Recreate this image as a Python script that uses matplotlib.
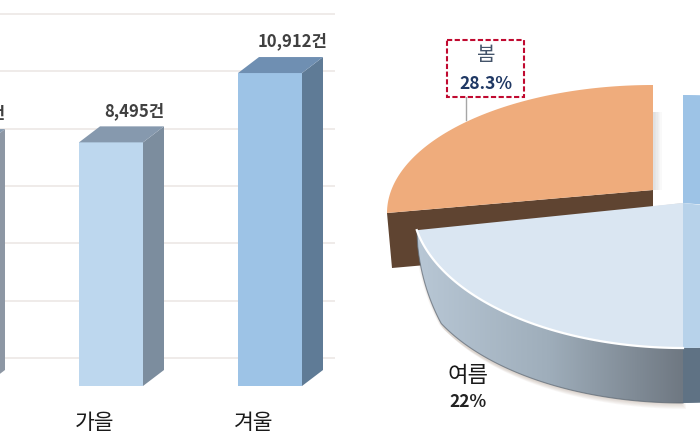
import matplotlib
matplotlib.use('Agg')
import matplotlib.pyplot as plt
from matplotlib.patches import Polygon, Rectangle
import numpy as np

plt.rcParams['font.family'] = ['Noto Sans CJK KR', 'DejaVu Sans']

# bar chart data (only the edge of the 여름 bar is in the picture, its value is a guess)
seasons = ['여름', '가을', '겨울']
counts = [8400, 8495, 10912]
count_labels = ['8,400건', '8,495건', '10,912건']
grid_values = [976, 2976, 4976, 6976, 8976, 10976, 12976]

front_colors = ['#A9B4C0', '#BDD7EE', '#9DC3E6']
side_colors = ['#8D97A4', '#7C8D9E', '#5F7B96']
top_colors = ['#8699AE', '#8699AE', '#6F8FB2']

# pie data, clockwise from the bottom
pie_names = ['여름', '봄', '겨울', '가을']
pie_shares = [22.0, 28.3, 27.9, 21.8]

W, H = 700, 440
fig = plt.figure(figsize=(7, 4.4), dpi=100, facecolor='white')

# left part: 3d looking bars
ax = fig.add_axes([0, 0, 335 / W, 1])
px_per_cat = 159
px_per_val = 0.02868
ax.set_xlim(1 - 111 / px_per_cat, 1 + 224 / px_per_cat)
ax.set_ylim(-54 / px_per_val, 386 / px_per_val)
for s in ax.spines.values():
    s.set_visible(False)
ax.set_yticks(grid_values)
ax.set_xticks([])
ax.tick_params(length=0, labelleft=False)
ax.grid(axis='y', color='#ECE8E5', lw=1.2)
ax.set_axisbelow(True)

idx = np.arange(len(seasons))
bar_w = 64 / px_per_cat
dx = 21 / px_per_cat
dy = 16 / px_per_val
ax.bar(idx, counts, width=bar_w, color=front_colors, zorder=3)
for i, v in zip(idx, counts):
    x0, x1 = i - bar_w / 2, i + bar_w / 2
    ax.add_patch(Polygon([(x1, 0), (x1 + dx, dy), (x1 + dx, v + dy), (x1, v)],
                         color=side_colors[i], lw=0, zorder=3))
    ax.add_patch(Polygon([(x0, v), (x1, v), (x1 + dx, v + dy), (x0 + dx, v + dy)],
                         color=top_colors[i], lw=0, zorder=3))
    ax.text(i + 23 / px_per_cat, v + dy + 230, count_labels[i], ha='center', va='bottom',
            fontsize=12, color='#404040', fontweight='bold', zorder=4, clip_on=True)
    if i > 0:
        ax.text(i - 16 / px_per_cat, -37 / px_per_val, seasons[i], ha='center', va='center',
                fontsize=15.5, color='#1A1A1A', clip_on=True)

# right part: exploded pie in perspective
pax = fig.add_axes([350 / W, 0, 350 / W, 1])
pax.set_xlim(350, 700)
pax.set_ylim(440, 0)
pax.axis('off')


def arc(cx, cy, a, b, t0, t1, n=80):
    # t is clockwise from straight down
    t = np.radians(np.linspace(t0, t1, n))
    return np.column_stack([cx - a * np.sin(t), cy + b * np.cos(t)])


edges = np.cumsum([0] + [s * 3.6 for s in pie_shares])
a, b = 271, 145
depth = 55
cx, cy = 683, 203
sx, sy = 653, 190  # 봄 is pulled out

# 여름 rim, thin towards its left end
summer_t = np.linspace(edges[0], edges[1], 80)
summer = arc(cx, cy, a, b, edges[0], edges[1])
rim = depth * np.clip((edges[1] - summer_t) / 16, 0, 1) ** 0.5
lower = summer + np.column_stack([np.zeros(80), rim])

# soft shadows
for k in range(6):
    pax.add_patch(Polygon(np.vstack([lower + [k - 2, k + 1], [[cx, cy]]]), color='#8A6F5A', alpha=0.05, lw=0, zorder=1))
    pax.add_patch(Rectangle((sx, sy - 78), 2 + k * 1.3, 78, color='#999999', alpha=0.05, lw=0, zorder=1))

# 봄, the visible arc runs from its tip to the top of the ellipse
spring = arc(sx, 213, 266, 128, 90, 180)
tip = spring[0]
pax.add_patch(Polygon([tip, (sx, sy), (sx, sy + depth), (tip[0] + 5, tip[1] + depth)],
                      color='#5F4431', lw=0, zorder=2))
pax.add_patch(Polygon(np.vstack([spring, [[sx, sy]]]), color='#EFAC7C', lw=0, zorder=3))

# 겨울
winter = arc(cx, cy, a, 108, 180, edges[3])
pax.add_patch(Polygon(np.vstack([winter, [[cx, cy]]]), color='#9DC3E6', lw=0, zorder=3))

# 여름 side with gradient
side = np.vstack([summer, lower[::-1]])
clip = Polygon(side, transform=pax.transData, lw=0, fc='none')
pax.add_patch(clip)
grad = np.linspace(0, 1, 256).reshape(1, -1)
cmap = matplotlib.colors.LinearSegmentedColormap.from_list('side', ['#B9C8D6', '#9FAEBB', '#6F7882'])
im = pax.imshow(grad, extent=[412, 683, 440, 0], aspect='auto', cmap=cmap, zorder=4)
im.set_clip_path(clip)
pax.set_xlim(350, 700)
pax.set_ylim(440, 0)
pax.plot(lower[:, 0], lower[:, 1], color='#5E6873', lw=0.8, alpha=0.7, zorder=4)

# 가을 side
autumn = arc(cx, cy, a, b, edges[3], edges[4])
pax.add_patch(Polygon(np.vstack([autumn, autumn[::-1] + [0, depth]]), color='#5F7284', lw=0, zorder=4))

# tops
pax.add_patch(Polygon(np.vstack([summer, [[cx, cy]]]), fc='#DAE6F2', ec='none', zorder=5))
pax.plot(summer[:, 0], summer[:, 1], color='white', lw=1.6, zorder=6)
pax.add_patch(Polygon(np.vstack([autumn, [[cx, cy]]]), color='#B7D2EA', lw=0, zorder=5))

# labels
pax.plot([466, 466], [97, 120], color='#A6A6A6', lw=1, zorder=2)
pax.add_patch(Rectangle((447, 40), 77, 57, fc='white', ec='#C00A30', lw=1.5, ls=(0, (2.5, 1.2)), zorder=7))
pax.text(486, 56, pie_names[1], ha='center', va='center', fontsize=14.5, color='#44546A', zorder=8)
pax.text(486, 84, '{:.1f}%'.format(pie_shares[1]), ha='center', va='center', fontsize=12.5,
         color='#1F3864', fontweight='bold', zorder=8)
pax.text(468, 375, pie_names[0], ha='center', va='center', fontsize=16, color='#1A1A1A', zorder=8)
pax.text(468, 402, '{:.0f}%'.format(pie_shares[0]), ha='center', va='center', fontsize=12.5,
         color='#222222', fontweight='bold', zorder=8)

fig.savefig('out.png', dpi=100)
